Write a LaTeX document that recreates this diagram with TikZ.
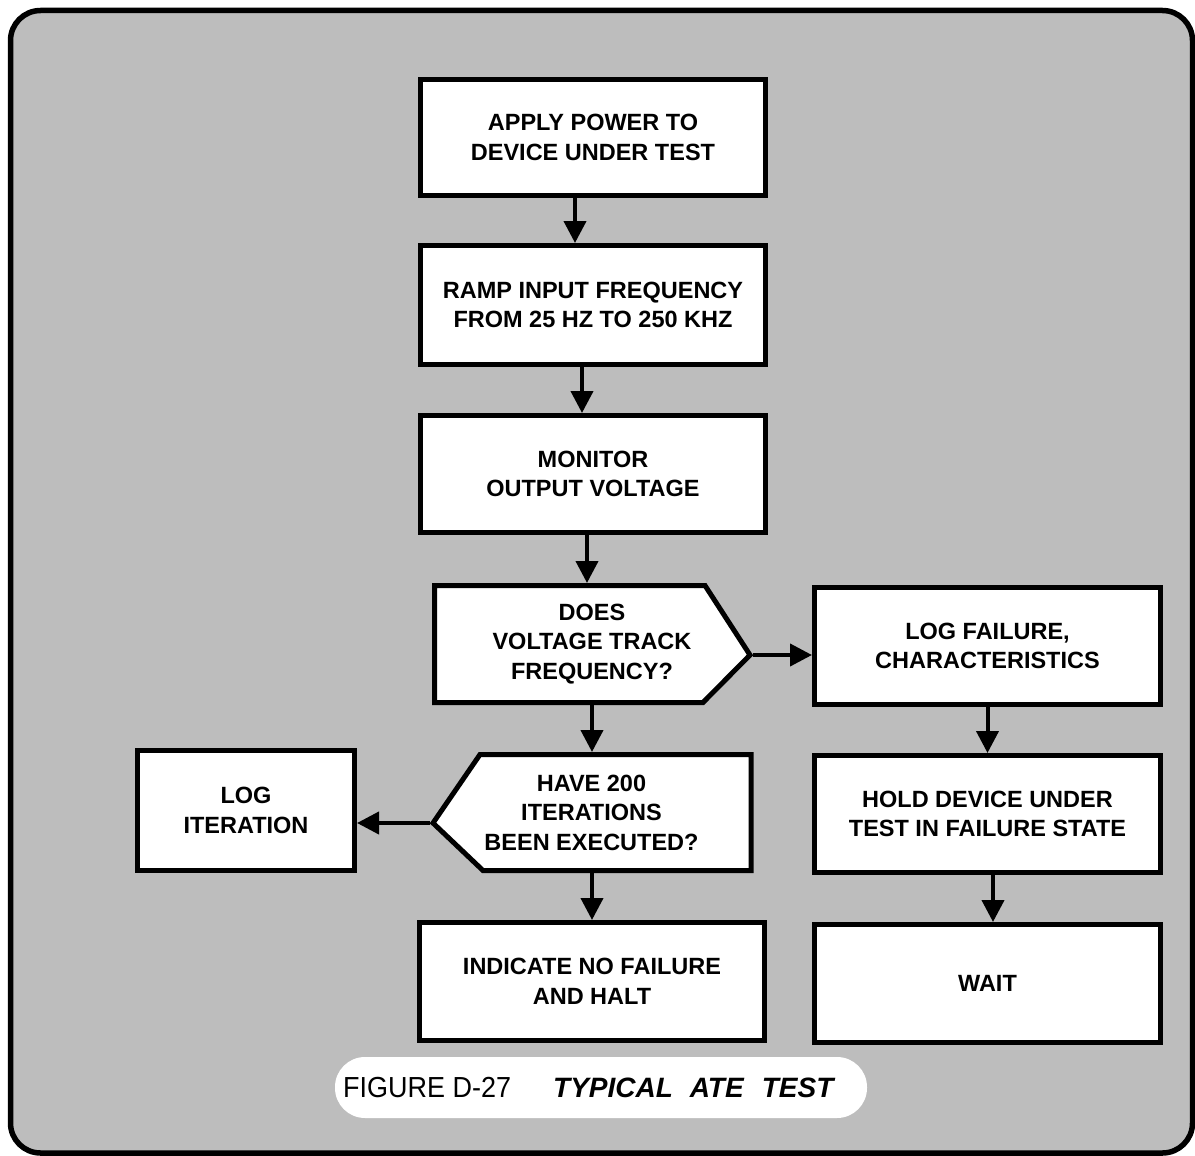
\documentclass[tikz,border=0pt]{standalone}
\usepackage{fontspec}
\setmainfont{Liberation Sans}
\usetikzlibrary{arrows.meta}
\definecolor{stip}{gray}{0.74}
\begin{document}
\begin{tikzpicture}[x=1pt,y=-1pt,
  txt/.style={align=center, font=\fontsize{23.5}{29.5}\selectfont\bfseries, inner sep=0pt},
  box/.style={txt, draw, fill=white, line width=5pt, minimum width=345pt},
  decbox/.style={txt, outer sep=2.5pt},
  decshape/.style={draw, fill=white, line width=5pt, line join=miter},
  arr/.style={line width=4pt, -{Triangle[width=22pt,length=22pt]}}]
\useasboundingbox (0,0) rectangle (1195,1156);
% frame
\draw[line width=5.5pt, fill=stip, rounded corners=30pt] (10.5,10.5) rectangle (1192.5,1153);
% caption pill
\fill[white, rounded corners=30pt] (335,1057) rectangle (867,1118);

% main column
\node[box, minimum height=116pt] (b1) at (593,137.5) {APPLY POWER TO\\DEVICE UNDER TEST};
\node[box, minimum height=119pt] (b2) at (593,305) {RAMP INPUT FREQUENCY\\FROM 25 HZ TO 250 KHZ};
\node[box, minimum height=117pt] (b3) at (593,474) {MONITOR\\OUTPUT VOLTAGE};

% decision 1
\draw[decshape] (434.5,585.5) -- (705,585.5) -- (750,655) -- (703,702.5) -- (434.5,702.5) -- cycle;
\node[decbox, minimum width=316pt, minimum height=117pt] (d1) at (592,644) {DOES\\VOLTAGE TRACK\\FREQUENCY?};
\coordinate (d1tip) at (753,655);

% decision 2
\draw[decshape] (751,754.5) -- (480,754.5) -- (433,823) -- (483,870.5) -- (751,870.5) -- cycle;
\node[decbox, minimum width=316pt, minimum height=116pt] (d2) at (591.5,812.5) {HAVE 200\\ITERATIONS\\BEEN EXECUTED?};
\coordinate (d2tip) at (430,823);

\node[box, minimum width=217pt, minimum height=120pt] (li) at (246,810.5) {LOG\\ITERATION};
\node[box, minimum height=118pt] (ind) at (592,981.5) {INDICATE NO FAILURE\\AND HALT};

% right column
\node[box, minimum width=346pt, minimum height=117pt] (lf) at (987.5,646) {LOG FAILURE,\\CHARACTERISTICS};
\node[box, minimum width=346pt, minimum height=117pt] (hold) at (987.5,814) {HOLD DEVICE UNDER\\TEST IN FAILURE STATE};
\node[box, minimum width=346pt, minimum height=118pt] (wait) at (987.5,983.5) {WAIT};

% connectors
\draw[arr] ([xshift=-18pt]b1.south) -- ([xshift=-18pt]b2.north);
\draw[arr] ([xshift=-11pt]b2.south) -- ([xshift=-11pt]b3.north);
\draw[arr] ([xshift=-6pt]b3.south) -- ([xshift=-5pt]d1.north);
\draw[arr] (d1.south) -- ([xshift=0.5pt]d2.north);
\draw[arr] ([xshift=0.5pt]d2.south) -- (ind.north);
\draw[arr] (d1tip) -- (d1tip -| lf.west);
\draw[arr] (d2tip) -- (d2tip -| li.east);
\draw[arr] (lf.south) -- (hold.north);
\draw[arr] ([xshift=5.5pt]hold.south) -- ([xshift=5.5pt]wait.north);

% caption
\node[anchor=base west, inner sep=0pt, font=\fontsize{29}{30}\selectfont] (fig) at (343,1097) {\scalebox{0.93}[1]{FIGURE D-27}};
\node[anchor=base west, inner sep=0pt, font=\fontsize{28}{30}\selectfont\bfseries\itshape] (title) at (553,1097) {TYPICAL\hspace{0.6em}ATE\hspace{0.65em}TEST};
\end{tikzpicture}
\end{document}
